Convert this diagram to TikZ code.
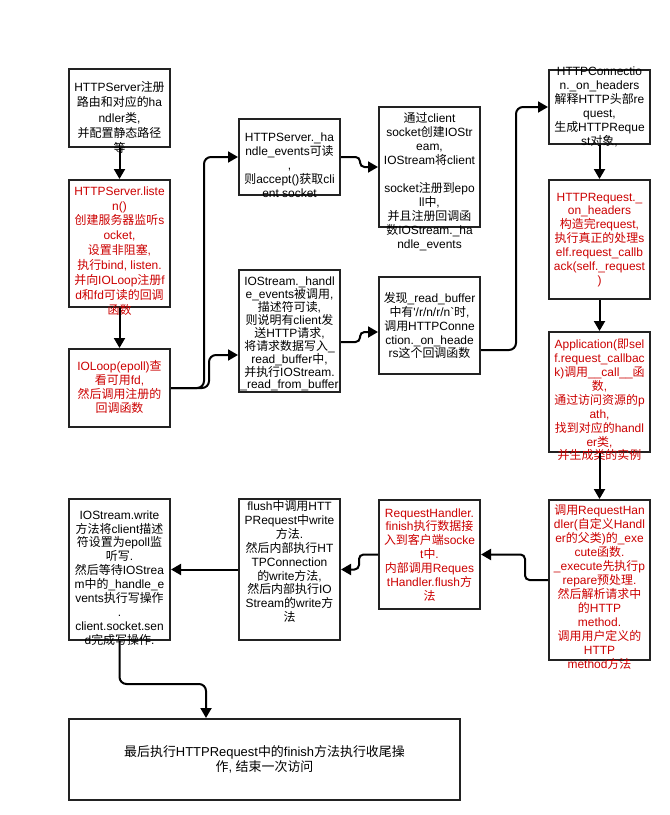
\documentclass[tikz,border=0pt]{standalone}
\usepackage{fontspec}
\usetikzlibrary{arrows.meta}
\newfontfamily\latinfont{Liberation Sans}[Ligatures=TeXOff]
\newfontfamily\cjkfont{Noto Sans CJK SC}
\XeTeXinterchartokenstate=1
\newXeTeXintercharclass\CJKclass
\newcount\cjkcnt
\cjkcnt="4E00
\loop\XeTeXcharclass\cjkcnt=\CJKclass\advance\cjkcnt by 1 \ifnum\cjkcnt<"A000 \repeat
\cjkcnt="3000
\loop\XeTeXcharclass\cjkcnt=\CJKclass\advance\cjkcnt by 1 \ifnum\cjkcnt<"3040 \repeat
\cjkcnt="FF00
\loop\XeTeXcharclass\cjkcnt=\CJKclass\advance\cjkcnt by 1 \ifnum\cjkcnt<"FFF0 \repeat
\XeTeXinterchartoks 0 \CJKclass={\cjkfont}
\XeTeXinterchartoks 4095 \CJKclass={\cjkfont}
\XeTeXinterchartoks \CJKclass 0={\latinfont}
\XeTeXinterchartoks \CJKclass 4095={\latinfont}
\definecolor{tred}{HTML}{CC0000}
\definecolor{bcol}{HTML}{222222}
\begin{document}
\begin{tikzpicture}[x=1bp,y=-1bp,
  box/.style={draw=bcol, line width=2bp, inner sep=0pt, minimum width=101bp},
  txt/.style={font=\fontsize{12}{14}\latinfont, align=center, inner sep=0pt},
  redtxt/.style={text=tred},
  conn/.style={draw=black, line width=2bp, rounded corners=7bp, -{Triangle[length=10bp,width=11bp]}},
  wig/.style={rounded corners=4.5bp}
]
\fill[white] (0,0) rectangle (670,815);
\useasboundingbox (0,0) rectangle (670,815);

% boxes
\node[box, minimum height=78bp]  (b1)  at (119.5,108) {};
\node[box, minimum height=127bp] (b2)  at (119.5,243.5) {};
\node[box, minimum height=78bp]  (b3)  at (119.5,388) {};
\node[box, minimum height=76bp]  (b4)  at (289.5,157) {};
\node[box, minimum height=122bp] (b5)  at (289.5,331) {};
\node[box, minimum height=120bp] (b6)  at (429.5,167) {};
\node[box, minimum height=97bp]  (b7)  at (429.5,325.5) {};
\node[box, minimum height=74bp]  (b8)  at (599.5,107) {};
\node[box, minimum height=119bp] (b9)  at (599.5,239.5) {};
\node[box, minimum height=120bp] (b10) at (599.5,392) {};
\node[box, minimum height=160bp] (b11) at (599.5,580) {};
\node[box, minimum height=109bp] (b12) at (429.5,554.5) {};
\node[box, minimum height=141bp] (b13) at (289.5,569.5) {};
\node[box, minimum height=141bp] (b14) at (119.5,569.5) {};
\node[box, minimum width=391bp, minimum height=81bp] (b15) at (264.5,759.5) {};

% texts
\node[txt, font=\fontsize{12}{15.5}\latinfont] (t1) at (119.5,117.5) {HTTPServer注册\\路由和对应的ha\\ndler类,\\并配置静态路径\\等};
\node[txt, redtxt, font=\fontsize{12}{15}\latinfont] (t2) at (119.5,251) {HTTPServer.liste\\n()\\创建服务器监听s\\ocket,\\设置非阻塞,\\执行bind, listen.\\并向IOLoop注册f\\d和fd可读的回调\\函数};
\node[txt, redtxt] (t3) at (119.5,386.7) {IOLoop(epoll)查\\看可用fd,\\然后调用注册的\\回调函数};
\node[txt] (t4) at (289.5,165) {HTTPServer.\_ha\\ndle\_events可读\\,\\则accept()获取cli\\ent socket};
\node[txt, font=\fontsize{12}{13}\latinfont] (t5) at (289.5,334) {IOStream.\_handl\\e\_events被调用,\\描述符可读,\\则说明有client发\\送HTTP请求,\\将请求数据写入\_\\read\_buffer中,\\并执行IOStream.\\\_read\_from\_buffer};
\node[txt] (t6) at (429.5,181.5) {通过client\\socket创建IOStr\\eam,\\IOStream将client\\\mbox{}\\socket注册到epo\\ll中,\\并且注册回调函\\数IOStream.\_ha\\ndle\_events};
\node[txt] (t7) at (429.5,325.5) {发现\_read\_buffer\\中有'/r/n/r/n`时,\\调用HTTPConne\\ction.\_on\_heade\\rs这个回调函数};
\node[txt] (t8) at (599.5,106.7) {HTTPConnectio\\n.\_on\_headers\\解释HTTP头部re\\quest,\\生成HTTPReque\\st对象,};
\node[txt, redtxt] (t9) at (599.5,240) {HTTPRequest.\_\\on\_headers\\构造完request,\\执行真正的处理s\\elf.request\_callb\\ack(self.\_request\\)};
\node[txt, redtxt] (t10) at (599.5,400) {Application(即sel\\f.request\_callbac\\k)调用\_\_call\_\_函\\数,\\通过访问资源的p\\ath,\\找到对应的handl\\er类,\\并生成类的实例};
\node[txt, redtxt] (t11) at (599.5,587.3) {调用RequestHan\\dler(自定义Handl\\er的父类)的\_exe\\cute函数.\\\_execute先执行p\\repare预处理.\\然后解析请求中\\的HTTP\\method.\\调用用户定义的\\HTTP\\method方法};
\node[txt, redtxt] (t12) at (429.5,555) {RequestHandler.\\finish执行数据接\\入到客户端socke\\t中.\\内部调用Reques\\tHandler.flush方\\法};
\node[txt] (t13) at (289.5,561.5) {flush中调用HTT\\PRequest中write\\方法.\\然后内部执行HT\\TPConnection\\的write方法,\\然后内部执行IO\\Stream的write方\\法};
\node[txt] (t14) at (119.5,578) {IOStream.write\\方法将client描述\\符设置为epoll监\\听写.\\然后等待IOStrea\\m中的\_handle\_e\\vents执行写操作\\.\\client.socket.sen\\d完成写操作.};
\node[txt, font=\fontsize{13}{15}\latinfont] (t15) at (264.5,759) {最后执行HTTPRequest中的finish方法执行收尾操\\作, 结束一次访问};

% connectors
\draw[conn] (b1.south) -- (b2.north);
\draw[conn] (b2.south) -- (b3.north);
\draw[conn] (b3.east) -- ++(33,0) |- (b4.west);
\draw[conn] (b3.east) -- ++(38,0) |- ([yshift=-24bp]b5.west);
\draw[conn, wig] ([yshift=-11bp]b5.east) -- ++(19,0) |- ([yshift=-6.5bp]b7.west);
\draw[conn, wig] (b4.east) -- ++(19,0) |- (b6.west);
\draw[conn] ([yshift=-24.5bp]b7.east) -- ++(35,0) |- (b8.west);
\draw[conn] (b8.south) -- (b9.north);
\draw[conn] (b9.south) -- (b10.north);
\draw[conn] (b10.south) -- (b11.north);
\draw[conn, wig] (b11.west) -- ++(-23,0) |- (b12.east);
\draw[conn, wig] (b12.west) -- ++(-19,0) |- (b13.east);
\draw[conn] (b13.west) -- (b14.east);
\draw[conn] (b14.south) -- ++(0,43) -| ([xshift=-58.5bp]b15.north);
\end{tikzpicture}
\end{document}
